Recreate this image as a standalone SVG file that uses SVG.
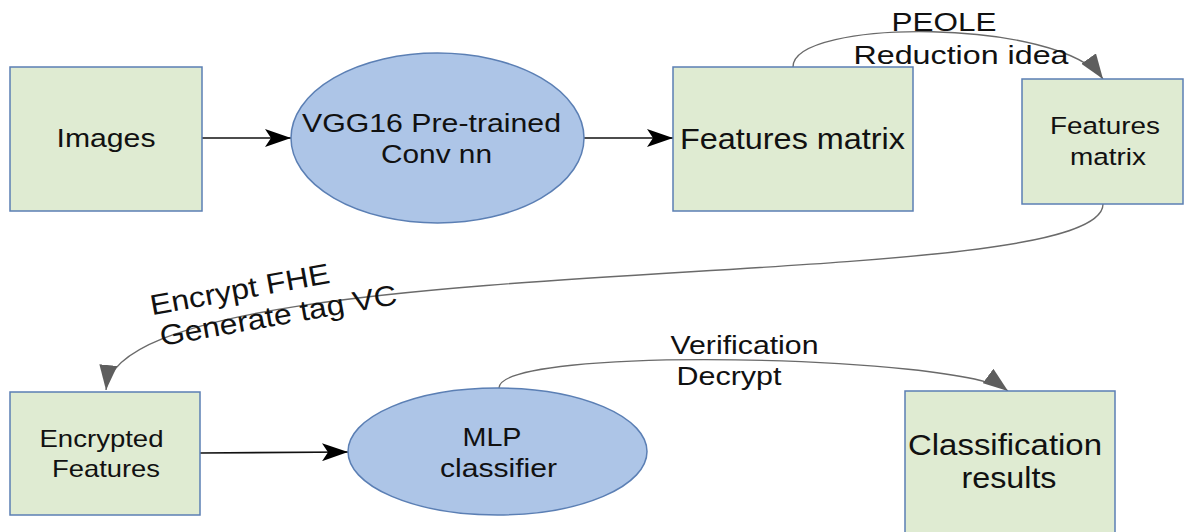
<svg xmlns="http://www.w3.org/2000/svg" width="1185" height="532" viewBox="0 0 1185 532">
<defs>
<style>
.box{fill:#dfebd2;stroke:#5b7fb4;stroke-width:1.5}
.ell{fill:#adc5e7;stroke:#5b7fb4;stroke-width:1.5}
text{font-family:"Liberation Sans",Arial,sans-serif;fill:#111;text-anchor:middle}
.line{stroke:#111;stroke-width:1.6;fill:none}
.curve{stroke:#6a6a6a;stroke-width:1.4;fill:none}
</style>
<marker id="ab" markerUnits="userSpaceOnUse" viewBox="0 0 26 18" markerWidth="26" markerHeight="18" refX="26" refY="9" orient="auto"><path d="M0,0 L26,9 L0,18 L6,9 z" fill="#000"/></marker>
<marker id="ag" markerUnits="userSpaceOnUse" viewBox="0 0 25 18" markerWidth="25" markerHeight="18" refX="25" refY="9" orient="auto"><path d="M0,0 L25,9 L0,18 z" fill="#5e5e5e"/></marker>
</defs>
<rect width="1185" height="532" fill="#fff"/>
<g id="connectors">
<path class="line" d="M202,138 L291,138" marker-end="url(#ab)"/>
<path class="line" d="M584,138 L673,138" marker-end="url(#ab)"/>
<path class="line" d="M200,453 L348,452" marker-end="url(#ab)"/>
<path class="curve" d="M793,67 C793,18 1060,18 1103,79" marker-end="url(#ag)"/>
<path class="curve" d="M1103,204 C1103,300 120,240 106,390" marker-end="url(#ag)"/>
<path class="curve" d="M499,388 C499,345 960,355 1008,391" marker-end="url(#ag)"/>
<text font-size="26.5" x="944" y="31" textLength="105" lengthAdjust="spacingAndGlyphs">PEOLE</text>
<text font-size="26.5" x="961" y="64" textLength="215" lengthAdjust="spacingAndGlyphs">Reduction idea</text>
<text font-size="28.5" x="241.5" y="299" textLength="182" lengthAdjust="spacingAndGlyphs" transform="rotate(-10.3 241.5 299)">Encrypt FHE</text>
<text font-size="28.5" x="280" y="325" textLength="240" lengthAdjust="spacingAndGlyphs" transform="rotate(-10.1 280 325)">Generate tag VC</text>
<text font-size="26.5" x="744.5" y="354" textLength="148" lengthAdjust="spacingAndGlyphs">Verification</text>
<text font-size="26.5" x="729" y="385" textLength="105" lengthAdjust="spacingAndGlyphs">Decrypt</text>
</g>
<g id="images">
<rect class="box" x="10" y="67" width="192" height="144"/>
<text font-size="26.5" x="106" y="147" textLength="99" lengthAdjust="spacingAndGlyphs">Images</text>
</g>
<g id="vgg16">
<ellipse class="ell" cx="437.5" cy="138" rx="146.5" ry="85"/>
<text font-size="26.5" x="431.5" y="132" textLength="259" lengthAdjust="spacingAndGlyphs">VGG16 Pre-trained</text>
<text font-size="26.5" x="436.5" y="163" textLength="111" lengthAdjust="spacingAndGlyphs">Conv nn</text>
</g>
<g id="features-matrix">
<rect class="box" x="673" y="67" width="240" height="144"/>
<text font-size="30" x="792.5" y="149" textLength="225" lengthAdjust="spacingAndGlyphs">Features matrix</text>
</g>
<g id="features-matrix-reduced">
<rect class="box" x="1022" y="79" width="161" height="125"/>
<text font-size="24.5" x="1105" y="134" textLength="110" lengthAdjust="spacingAndGlyphs">Features</text>
<text font-size="24.5" x="1108" y="165" textLength="76" lengthAdjust="spacingAndGlyphs">matrix</text>
</g>
<g id="encrypted-features">
<rect class="box" x="10" y="392" width="190" height="123"/>
<text font-size="24" x="101.5" y="447" textLength="124" lengthAdjust="spacingAndGlyphs">Encrypted</text>
<text font-size="24" x="106" y="477" textLength="108" lengthAdjust="spacingAndGlyphs">Features</text>
</g>
<g id="mlp-classifier">
<ellipse class="ell" cx="497.5" cy="451.5" rx="149.5" ry="63.5"/>
<text font-size="26.5" x="492" y="445.5" textLength="59" lengthAdjust="spacingAndGlyphs">MLP</text>
<text font-size="26.5" x="498.5" y="477" textLength="117" lengthAdjust="spacingAndGlyphs">classifier</text>
</g>
<g id="classification-results">
<rect class="box" x="905" y="391" width="210" height="150"/>
<text font-size="30" x="1005" y="455" textLength="194" lengthAdjust="spacingAndGlyphs">Classification</text>
<text font-size="30" x="1009" y="488" textLength="95" lengthAdjust="spacingAndGlyphs">results</text>
</g>
</svg>
